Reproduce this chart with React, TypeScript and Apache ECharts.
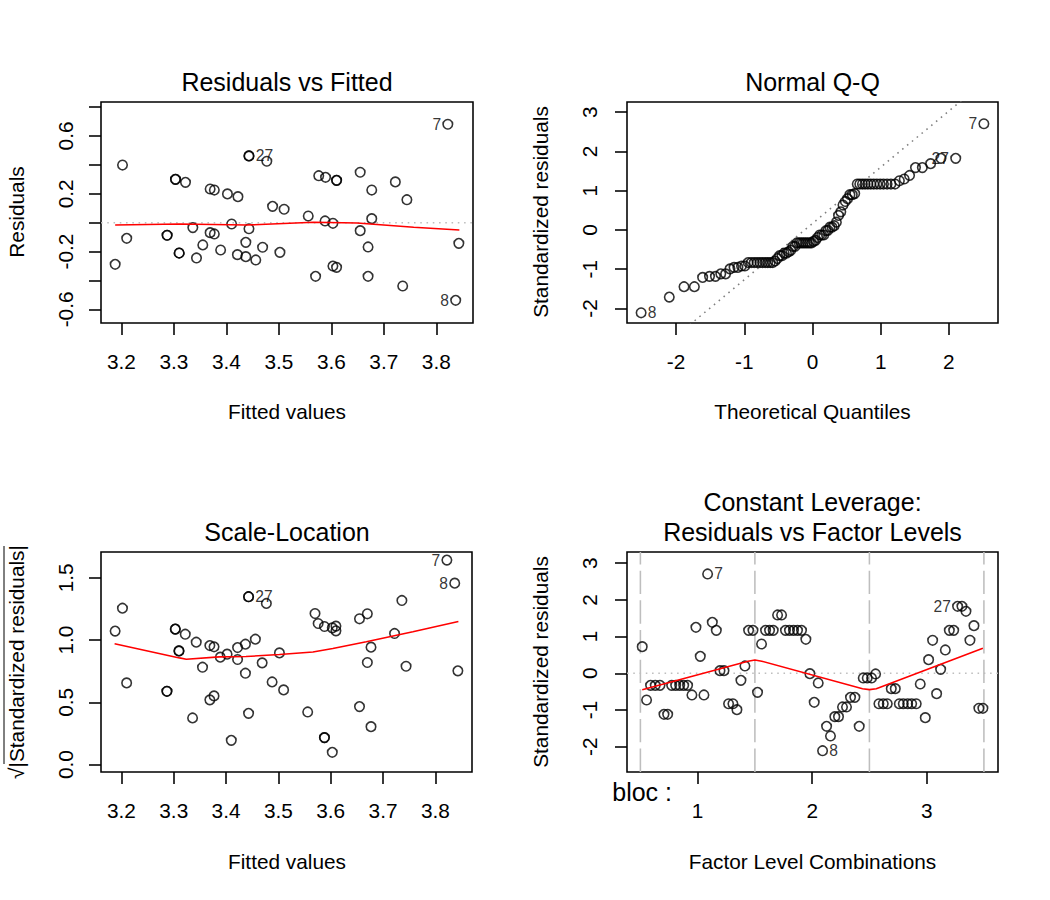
import { useEffect, useRef } from "react";
import * as echarts from "echarts";

const FF = '"Liberation Sans", Arimo, Arial, Helvetica, sans-serif';
const LW = 1.56;

// ---------- Panel 1: Residuals vs Fitted ----------
const rvfX = [3.188,3.202,3.210,3.287,3.287,3.303,3.303,3.310,3.310,3.322,3.336,3.343,3.355,3.369,3.377,3.369,3.377,3.389,3.402,3.410,3.422,3.421,3.437,3.437,3.443,3.443,3.443,3.477,3.456,3.469,3.488,3.502,3.510,3.556,3.570,3.576,3.589,3.588,3.603,3.610,3.610,3.603,3.610,3.655,3.655,3.670,3.670,3.677,3.677,3.722,3.736,3.744,3.822,3.837,3.843];
const rvfY = [-0.288,0.399,-0.108,-0.087,-0.087,0.300,0.300,-0.210,-0.210,0.279,-0.034,-0.244,-0.154,0.233,0.226,-0.069,-0.078,-0.189,0.199,-0.009,0.180,-0.221,-0.136,-0.235,-0.042,0.462,0.462,0.425,-0.258,-0.170,0.113,-0.205,0.093,0.046,-0.371,0.325,0.314,0.012,-0.004,0.293,0.293,-0.300,-0.309,0.349,-0.055,-0.168,-0.371,0.226,0.028,0.282,-0.438,0.159,0.681,-0.537,-0.143];
const rvfLoX = [3.188,3.311,3.438,3.566,3.649,3.757,3.844];
const rvfLoY = [-0.016,-0.009,-0.016,0.003,-0.002,-0.032,-0.051];
const rvfIdX = [3.822,3.837,3.443];
const rvfIdY = [0.681,-0.537,0.462];
const rvfIdText = ["7","8","27"];
const rvfIdPos = ["left","left","right"];

// ---------- Panel 2: Normal Q-Q ----------
const qqX = [-2.513,-2.100,-1.884,-1.732,-1.611,-1.510,-1.423,-1.345,-1.274,-1.210,-1.150,-1.094,-1.041,-0.992,-0.944,-0.898,-0.854,-0.812,-0.771,-0.732,-0.693,-0.656,-0.619,-0.583,-0.549,-0.514,-0.481,-0.447,-0.415,-0.382,-0.350,-0.319,-0.287,-0.256,-0.226,-0.195,-0.165,-0.135,-0.105,-0.075,-0.045,-0.015,0.015,0.045,0.075,0.105,0.135,0.165,0.195,0.226,0.256,0.287,0.319,0.350,0.382,0.415,0.447,0.481,0.514,0.549,0.583,0.619,0.656,0.693,0.732,0.771,0.812,0.854,0.898,0.944,0.992,1.041,1.094,1.150,1.210,1.274,1.345,1.423,1.510,1.611,1.732,1.884,2.100,2.513];
const qqY = [-2.11,-1.71,-1.445,-1.445,-1.209,-1.182,-1.182,-1.118,-1.118,-0.991,-0.954,-0.954,-0.918,-0.918,-0.83,-0.83,-0.83,-0.83,-0.83,-0.83,-0.83,-0.83,-0.83,-0.83,-0.791,-0.728,-0.655,-0.655,-0.591,-0.591,-0.555,-0.519,-0.419,-0.419,-0.328,-0.328,-0.328,-0.328,-0.328,-0.328,-0.328,-0.328,-0.292,-0.264,-0.192,-0.128,-0.128,-0.128,-0.019,-0.010,0.072,0.072,0.108,0.199,0.371,0.462,0.635,0.726,0.798,0.899,0.899,0.926,1.17,1.17,1.17,1.17,1.17,1.17,1.17,1.17,1.17,1.17,1.17,1.17,1.17,1.253,1.298,1.389,1.589,1.589,1.689,1.825,1.825,2.706];
const qqLineX = [-2.72, 2.72];
const qqLineY = [-3.733, 4.063];
const qqIdX = [-2.513, 2.100, 2.513];
const qqIdY = [-2.11, 1.825, 2.706];
const qqIdText = ["8","27","7"];
const qqIdPos = ["right","left","left"];

// ---------- Panel 3: Scale-Location ----------
const slX = [3.188,3.202,3.210,3.287,3.287,3.303,3.303,3.310,3.310,3.322,3.336,3.343,3.355,3.369,3.377,3.369,3.377,3.389,3.402,3.410,3.422,3.422,3.437,3.437,3.443,3.443,3.443,3.477,3.456,3.469,3.488,3.502,3.510,3.556,3.570,3.576,3.588,3.588,3.588,3.603,3.610,3.610,3.603,3.655,3.655,3.670,3.670,3.677,3.677,3.722,3.736,3.744,3.822,3.837,3.843];
const slY = [1.072,1.256,0.656,0.589,0.589,1.088,1.088,0.913,0.913,1.047,0.375,0.983,0.782,0.956,0.946,0.520,0.552,0.863,0.887,0.195,0.940,0.844,0.734,0.967,0.412,1.348,1.348,1.294,1.007,0.817,0.664,0.897,0.600,0.423,1.213,1.133,1.109,0.217,0.217,1.098,1.112,1.074,0.099,1.171,0.466,1.211,0.820,0.943,0.305,1.053,1.318,0.790,1.642,1.457,0.753];
const slLoX = [3.187,3.311,3.324,3.387,3.438,3.502,3.566,3.604,3.668,3.757,3.844];
const slLoY = [0.970,0.857,0.846,0.865,0.868,0.884,0.905,0.932,0.986,1.066,1.149];
const slIdX = [3.822,3.837,3.443];
const slIdY = [1.642,1.457,1.348];
const slIdText = ["7","8","27"];
const slIdPos = ["left","left","right"];

// ---------- Panel 4: Residuals vs Factor Levels ----------
const flX = [0.516,0.554,0.589,0.630,0.671,0.706,0.738,0.773,0.808,0.843,0.878,0.912,0.950,0.985,1.023,1.055,1.087,1.128,1.163,1.195,1.230,1.270,1.308,1.343,1.378,1.413,1.445,1.483,
  1.523,1.558,1.593,1.628,1.660,1.698,1.733,1.767,1.802,1.837,1.872,1.907,1.945,1.980,2.018,2.053,2.091,2.126,2.160,2.198,2.230,2.265,2.300,2.335,2.373,2.411,2.446,2.481,
  2.519,2.554,2.583,2.621,2.656,2.691,2.726,2.761,2.796,2.834,2.869,2.909,2.944,2.988,3.017,3.052,3.087,3.122,3.163,3.198,3.236,3.270,3.308,3.343,3.378,3.413,3.456,3.491];
const flY = [0.726,-0.728,-0.328,-0.328,-0.328,-1.118,-1.118,-0.328,-0.328,-0.328,-0.328,-0.328,-0.591,1.253,0.462,-0.591,2.706,1.389,1.17,0.072,0.072,-0.83,-0.83,-0.991,-0.192,0.199,1.17,1.17,
  -0.519,0.798,1.17,1.17,1.17,1.589,1.589,1.17,1.17,1.17,1.17,1.17,0.926,-0.010,-0.791,-0.264,-2.11,-1.445,-1.708,-1.182,-1.182,-0.918,-0.918,-0.655,-0.655,-1.445,-0.128,-0.128,
  -0.128,-0.019,-0.83,-0.83,-0.83,-0.419,-0.419,-0.83,-0.83,-0.83,-0.83,-0.83,-0.292,-1.209,0.371,0.899,-0.555,0.108,0.635,1.17,1.17,1.825,1.825,1.689,0.899,1.298,-0.954,-0.954];
const flLoX = [0.516,1.44,1.5,1.56,2.44,2.5,2.56,3.491];
const flLoY = [-0.446,0.33,0.36,0.33,-0.42,-0.445,-0.42,0.68];
const flLevels = [0.5,1.5,2.5,3.5];
const flIdX = [1.087,2.091,3.270];
const flIdY = [2.706,-2.11,1.825];
const flIdText = ["7","8","27"];
const flIdPos = ["right","right","left"];

// ---------- Axis ranges & ticks ----------
const fitRange = [3.161, 3.870];
const fitTicks = [3.2,3.3,3.4,3.5,3.6,3.7,3.8];
const rvfRange = [-0.694, 0.835];
const rvfTicks = [-0.6,-0.4,-0.2,0,0.2,0.4,0.6,0.8];
const rvfLabels = [-0.6,-0.2,0.2,0.6];
const qqXRange = [-2.72, 2.72];
const qqXTicks = [-2,-1,0,1,2];
const qqYRange = [-2.37, 3.26];
const stdTicks = [-2,-1,0,1,2,3];
const slRange = [-0.059, 1.707];
const slTicks = [0,0.5,1,1.5];
const flXRange = [0.383, 3.623];
const flXTicks = [1,2,3];
const flYRange = [-2.69, 3.305];

const f1 = (v: number) => v.toFixed(1);
const fi = (v: number) => String(Math.round(v));

function axis(grid: number, range: number[], ticks: number[], labels: number[], fmt: (v: number) => string, margin: number, rotate: number) {
  return {
    type: "value",
    gridIndex: grid,
    min: range[0],
    max: range[1],
    axisLine: { show: false, onZero: false },
    splitLine: { show: false },
    axisTick: { show: true, inside: false, length: 12, lineStyle: { color: "#000", width: LW }, customValues: ticks },
    axisLabel: { show: true, customValues: labels, formatter: fmt, margin, rotate, color: "#000", fontSize: 20.8, fontFamily: FF },
  };
}

const zip = (xs: number[], ys: number[]) => xs.map((x, i) => [x, ys[i]]);

function pointSeries(i: number, xs: number[], ys: number[]) {
  return {
    type: "scatter", xAxisIndex: i, yAxisIndex: i, silent: true, z: 3,
    symbol: "circle", symbolSize: 9.5,
    itemStyle: { color: "rgba(0,0,0,0)", borderColor: "#000", borderWidth: 1.6 },
    data: zip(xs, ys),
  };
}
function redLine(i: number, xs: number[], ys: number[]) {
  return {
    type: "line", xAxisIndex: i, yAxisIndex: i, silent: true, z: 4, symbol: "none",
    lineStyle: { color: "#ff0000", width: LW }, data: zip(xs, ys),
  };
}
function refLine(i: number, xs: number[], ys: number[], color: string, dash: number[]) {
  return {
    type: "line", xAxisIndex: i, yAxisIndex: i, silent: true, z: 1, symbol: "none", clip: true,
    lineStyle: { color, width: LW, type: dash }, data: zip(xs, ys),
  };
}
function idSeries(i: number, xs: number[], ys: number[], texts: string[], pos: string[]) {
  return {
    type: "scatter", xAxisIndex: i, yAxisIndex: i, silent: true, z: 5,
    symbol: "circle", symbolSize: 9.5,
    itemStyle: { color: "rgba(0,0,0,0)", borderWidth: 0 },
    label: { show: true, formatter: "{b}", color: "#000", fontSize: 15.6, fontFamily: FF, distance: 2 },
    data: xs.map((x, k) => ({ name: texts[k], value: [x, ys[k]], label: { position: pos[k] } })),
  };
}

function gtext(text: string, x: number, y: number, size: number, rotation = 0, align = "center") {
  return {
    type: "text", x, y, rotation, silent: true,
    style: { text, fill: "#000", fontSize: size, fontFamily: FF, align, verticalAlign: "middle", textAlign: align, textVerticalAlign: "middle" },
  };
}

const DOT = [1.56, 4.7];
const F4 = [23.4, 6.25];

const option = {
  animation: false,
  backgroundColor: "#ffffff",
  grid: [
    { left: 101, top: 102, width: 372, height: 221 },
    { left: 627, top: 102, width: 371, height: 221 },
    { left: 101, top: 552, width: 371, height: 220 },
    { left: 627, top: 552, width: 371, height: 220 },
  ].map((g) => ({ ...g, show: true, borderColor: "#000", borderWidth: LW, backgroundColor: "transparent", containLabel: false, outerBoundsMode: "none" })),
  xAxis: [
    axis(0, fitRange, fitTicks, fitTicks, f1, 28, 0),
    axis(1, qqXRange, qqXTicks, qqXTicks, fi, 28, 0),
    axis(2, fitRange, fitTicks, fitTicks, f1, 28, 0),
    axis(3, flXRange, flXTicks, flXTicks, fi, 28, 0),
  ],
  yAxis: [
    axis(0, rvfRange, rvfTicks, rvfLabels, f1, 25, 90),
    axis(1, qqYRange, stdTicks, stdTicks, fi, 27, 90),
    axis(2, slRange, slTicks, slTicks, f1, 25, 90),
    axis(3, flYRange, stdTicks, stdTicks, fi, 27, 90),
  ],
  series: [
    refLine(0, fitRange, [0, 0], "#bebebe", DOT),
    pointSeries(0, rvfX, rvfY),
    redLine(0, rvfLoX, rvfLoY),
    idSeries(0, rvfIdX, rvfIdY, rvfIdText, rvfIdPos),

    refLine(1, qqLineX, qqLineY, "#7f7f7f", DOT),
    pointSeries(1, qqX, qqY),
    idSeries(1, qqIdX, qqIdY, qqIdText, qqIdPos),

    pointSeries(2, slX, slY),
    redLine(2, slLoX, slLoY),
    idSeries(2, slIdX, slIdY, slIdText, slIdPos),

    refLine(3, flXRange, [0, 0], "#bebebe", DOT),
    ...flLevels.map((v) => refLine(3, [v, v], flYRange, "#bebebe", F4)),
    pointSeries(3, flX, flY),
    redLine(3, flLoX, flLoY),
    idSeries(3, flIdX, flIdY, flIdText, flIdPos),
  ],
  graphic: [
    gtext("Residuals vs Fitted", 287, 82, 25),
    gtext("Normal Q-Q", 812.5, 82, 25),
    gtext("Scale-Location", 287, 532, 25),
    gtext("Constant Leverage:", 812.5, 502, 25),
    gtext("Residuals vs Factor Levels", 812.5, 532, 25),
    gtext("Fitted values", 287, 411, 20.8),
    gtext("Theoretical Quantiles", 812.5, 411, 20.8),
    gtext("Fitted values", 287, 861, 20.8),
    gtext("Factor Level Combinations", 812.5, 861, 20.8),
    gtext("Residuals", 16, 212, 20.8, Math.PI / 2),
    gtext("Standardized residuals", 540, 212, 20.8, Math.PI / 2),
    gtext("√|Standardized residuals|", 16, 662, 20.8, Math.PI / 2),
    { type: "line", silent: true, shape: { x1: 4, y1: 546, x2: 4, y2: 764 }, style: { stroke: "#000", lineWidth: 1 } },
    gtext("Standardized residuals", 540, 662, 20.8, Math.PI / 2),
    gtext("bloc :", 672, 792, 25, 0, "right"),
  ],
};

export default function App() {
  const ref = useRef<HTMLDivElement>(null);
  useEffect(() => {
    document.body.style.margin = "0";
    const chart = echarts.init(ref.current as HTMLDivElement, undefined, { renderer: "svg", width: 1050, height: 900 });
    chart.setOption(option as any);
    return () => chart.dispose();
  }, []);
  return <div ref={ref} style={{ width: 1050, height: 900, background: "#fff" }} />;
}
